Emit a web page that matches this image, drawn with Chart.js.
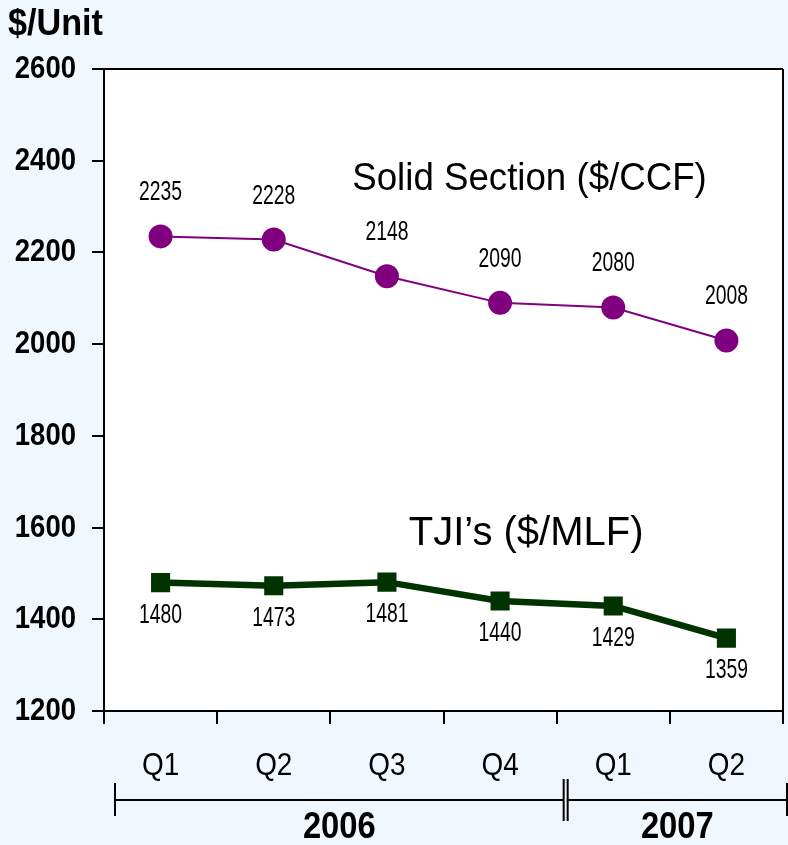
<!DOCTYPE html>
<html>
<head>
<meta charset="utf-8">
<script src="https://cdn.jsdelivr.net/npm/chart.js@4.4.0/dist/chart.umd.min.js"></script>
<style>
  body { margin: 0; background: #f0f8ff; }
  #wrap { width: 788px; height: 845px; }
</style>
</head>
<body>
<div id="wrap"><canvas id="myChart" width="788" height="845"></canvas></div>
<script>
var quarters = ["Q1", "Q2", "Q3", "Q4", "Q1", "Q2"];
var years = ["2006", "2007"];
var yearSpans = [4, 2];
var solidSection = [2235, 2228, 2148, 2090, 2080, 2008];
var tjis = [1480, 1473, 1481, 1440, 1429, 1359];
var seriesNames = ["Solid Section ($/CCF)", "TJI\u2019s ($/MLF)"];
var yMin = 1200;
var yMax = 2600;
var yStep = 200;
var yTitle = "$/Unit";

var FONT = "'Liberation Sans', Arial, sans-serif";
var PURPLE = "#800080";
var GREEN = "#003300";

// text drawn on the alphabetic baseline, squeezed sideways to look like a narrow face
function drawText(ctx, text, x, y, size, weight, align, sx) {
  ctx.save();
  ctx.fillStyle = "#000";
  ctx.font = weight + " " + size + "px " + FONT;
  ctx.textAlign = align || "center";
  ctx.textBaseline = "alphabetic";
  ctx.translate(x, y);
  ctx.scale(sx || 1, 1);
  ctx.fillText(text, 0, 0);
  ctx.restore();
}

function line(ctx, x1, y1, x2, y2, w) {
  ctx.beginPath();
  ctx.lineWidth = w;
  ctx.strokeStyle = "#000";
  ctx.moveTo(x1, y1);
  ctx.lineTo(x2, y2);
  ctx.stroke();
}

var decor = {
  id: "decor",
  beforeDraw: function(chart) {
    var ctx = chart.ctx;
    var a = chart.chartArea;
    ctx.save();
    ctx.fillStyle = "#f0f8ff";
    ctx.fillRect(0, 0, chart.width, chart.height);
    ctx.fillStyle = "#fff";
    ctx.fillRect(a.left, a.top, a.right - a.left, a.bottom - a.top);
    ctx.restore();
  },
  afterDraw: function(chart) {
    var ctx = chart.ctx;
    var a = chart.chartArea;
    var x = chart.scales.x;
    var y = chart.scales.y;

    ctx.save();
    // top and right frame
    line(ctx, a.left - 12, a.top, a.right, a.top, 2);
    line(ctx, a.right, a.top, a.right, a.bottom, 2);

    // axis title
    drawText(ctx, yTitle, 8, 35, 36, "bold", "left", 0.95);

    // y tick labels
    for (var t = 0; t < y.ticks.length; t++) {
      var v = y.ticks[t].value;
      drawText(ctx, String(v), 76, y.getPixelForValue(v) + 9, 32, "bold", "right", 0.86);
    }

    // x tick labels
    for (var q = 0; q < quarters.length; q++) {
      drawText(ctx, quarters[q], x.getPixelForValue(q), 775, 31, "normal", "center", 0.9);
    }

    // data labels
    for (var i = 0; i < solidSection.length; i++) {
      drawText(ctx, String(solidSection[i]), x.getPixelForValue(i), y.getPixelForValue(solidSection[i]) - 36, 28, "normal", "center", 0.69);
      drawText(ctx, String(tjis[i]), x.getPixelForValue(i), y.getPixelForValue(tjis[i]) + 40, 28, "normal", "center", 0.69);
    }

    // series names
    var step = x.getPixelForValue(1) - x.getPixelForValue(0);
    drawText(ctx, seriesNames[0], x.getPixelForValue(3) + 0.26 * step, y.getPixelForValue(2337), 39, "normal", "center", 0.94);
    drawText(ctx, seriesNames[1], x.getPixelForValue(3) + 0.23 * step, y.getPixelForValue(1561), 40, "normal", "center", 1);

    // year brackets
    var by = 800;
    var idx = 0;
    for (var j = 0; j < years.length; j++) {
      var from = x.getPixelForValue(idx - 0.5) + 11;
      idx += yearSpans[j];
      var to = j == years.length - 1 ? chart.width - 1 : x.getPixelForValue(idx - 0.5) + 7;
      line(ctx, from, by, to, by, 2);
      if (j == 0) {
        line(ctx, from, by - 17, from, by + 16, 2);
      } else {
        line(ctx, from, by - 21, from, by + 21, 2);
      }
      if (j == years.length - 1) {
        line(ctx, to, by - 17, to, by + 16, 2);
      } else {
        line(ctx, to, by - 21, to, by + 21, 2);
      }
      drawText(ctx, years[j], (from + to) / 2, 838, 36, "bold", "center", 0.91);
    }
    ctx.restore();
  }
};

function drawChart() {
  var ctx = document.getElementById("myChart");
  var myChart = new Chart(ctx, {
    type: "line",
    data: {
      labels: quarters,
      datasets: [
        {
          label: seriesNames[0],
          data: solidSection,
          borderColor: PURPLE,
          backgroundColor: PURPLE,
          borderWidth: 2,
          pointStyle: "circle",
          pointRadius: 12,
          pointBorderWidth: 0,
          tension: 0
        },
        {
          label: seriesNames[1],
          data: tjis,
          borderColor: GREEN,
          backgroundColor: GREEN,
          borderWidth: 6.5,
          pointStyle: "rect",
          pointRadius: 13.5,
          pointBorderWidth: 0,
          tension: 0
        }
      ]
    },
    options: {
      responsive: false,
      animation: false,
      events: [],
      layout: { autoPadding: false, padding: { top: 69, right: 5, left: 0, bottom: 0 } },
      plugins: {
        legend: { display: false },
        tooltip: { enabled: false },
        title: { display: false }
      },
      scales: {
        x: {
          offset: true,
          grid: {
            display: true,
            offset: true,
            drawOnChartArea: false,
            drawTicks: true,
            tickLength: 13,
            color: "#000",
            lineWidth: 2
          },
          border: { display: true, color: "#000", width: 2 },
          ticks: { display: false },
          afterFit: function(scale) { scale.height = 134; }
        },
        y: {
          min: yMin,
          max: yMax,
          grid: {
            display: true,
            drawOnChartArea: false,
            drawTicks: true,
            tickLength: 12,
            color: "#000",
            lineWidth: 2
          },
          border: { display: true, color: "#000", width: 2 },
          ticks: { display: false, stepSize: yStep },
          afterFit: function(scale) { scale.width = 104; }
        }
      }
    },
    plugins: [decor]
  });
}

drawChart();
</script>
</body>
</html>
